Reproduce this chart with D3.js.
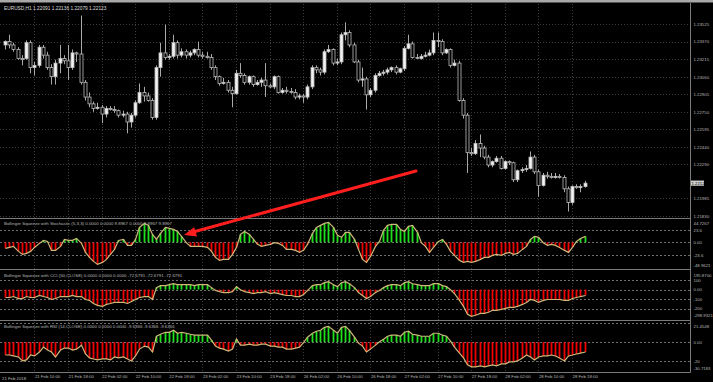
<!DOCTYPE html>
<html>
<head>
<meta charset="utf-8">
<script src="https://cdn.jsdelivr.net/npm/d3@7"></script>
<style>
  html, body { margin: 0; padding: 0; background: #000; }
  svg { display: block; }
  text { font-family: "Liberation Sans", Arial, sans-serif; }
</style>
</head>
<body>
<div id="chart"></div>
<script>
const width = 713, height = 382;

// EURUSD H1, one bar per hour from 21 Feb 03:00 to 28 Feb 21:00
const open = [1.2334,1.2337,1.2334,1.2330,1.2322,1.2322,1.2336,1.2314,1.2316,1.2332,
  1.2325,1.2314,1.2306,1.2318,1.2322,1.2320,1.2314,1.2327,1.2326,1.2301,
  1.2288,1.2282,1.2278,1.2279,1.2273,1.2278,1.2277,1.2276,1.2272,1.2273,
  1.2266,1.2272,1.2283,1.2292,1.2289,1.2285,1.2270,1.2314,1.2327,1.2323,
  1.2324,1.2336,1.2325,1.2328,1.2325,1.2327,1.2330,1.2325,1.2324,1.2323,
  1.2314,1.2306,1.2300,1.2301,1.2294,1.2291,1.2309,1.2307,1.2301,1.2306,
  1.2299,1.2301,1.2303,1.2298,1.2297,1.2306,1.2292,1.2294,1.2293,1.2292,
  1.2288,1.2289,1.2288,1.2297,1.2314,1.2312,1.2310,1.2328,1.2330,1.2318,
  1.2319,1.2343,1.2345,1.2334,1.2319,1.2303,1.2304,1.2290,1.2294,1.2307,
  1.2309,1.2310,1.2312,1.2314,1.2310,1.2313,1.2331,1.2335,1.2323,1.2322,
  1.2324,1.2325,1.2327,1.2338,1.2337,1.2327,1.2330,1.2316,1.2318,1.2285,
  1.2272,1.2239,1.2238,1.2247,1.2243,1.2235,1.2228,1.2231,1.2234,1.2225,
  1.2231,1.2230,1.2215,1.2223,1.2224,1.2225,1.2235,1.2222,1.2210,1.2219,
  1.2218,1.2217,1.2218,1.2217,1.2207,1.2195,1.2209,1.2208,1.2209];
const high = [1.2338,1.2343,1.2336,1.2332,1.2325,1.2338,1.2338,1.2319,1.2334,1.2334,
  1.2328,1.2317,1.2321,1.2334,1.2325,1.2334,1.2330,1.2328,1.2360,1.2303,
  1.2292,1.2284,1.2283,1.2281,1.2280,1.2280,1.2280,1.2277,1.2276,1.2275,
  1.2274,1.2285,1.2300,1.2297,1.2292,1.2287,1.2316,1.2336,1.2352,1.2326,
  1.2343,1.2338,1.2331,1.2330,1.2329,1.2331,1.2337,1.2328,1.2328,1.2326,
  1.2316,1.2307,1.2305,1.2303,1.2297,1.2312,1.2318,1.2309,1.2307,1.2307,
  1.2303,1.2305,1.2318,1.2300,1.2307,1.2307,1.2296,1.2297,1.2296,1.2295,
  1.2291,1.2291,1.2299,1.2316,1.2316,1.2314,1.2330,1.2334,1.2331,1.2322,
  1.2345,1.2354,1.2347,1.2336,1.2321,1.2314,1.2306,1.2296,1.2309,1.2311,
  1.2312,1.2314,1.2315,1.2316,1.2314,1.2333,1.2343,1.2337,1.2326,1.2326,
  1.2328,1.2330,1.2345,1.2345,1.2339,1.2331,1.2331,1.2321,1.2320,1.2287,
  1.2274,1.2243,1.2250,1.2255,1.2245,1.2237,1.2232,1.2236,1.2236,1.2232,
  1.2232,1.2231,1.2224,1.2226,1.2228,1.2240,1.2237,1.2224,1.2221,1.2222,
  1.2221,1.2221,1.2220,1.2219,1.2209,1.2210,1.2211,1.2211,1.2214];
const low = [1.2330,1.2331,1.2328,1.2321,1.2316,1.2321,1.2309,1.2307,1.2314,1.2322,
  1.2312,1.2299,1.2299,1.2309,1.2317,1.2303,1.2312,1.2319,1.2299,1.2285,
  1.2279,1.2275,1.2277,1.2265,1.2270,1.2276,1.2274,1.2270,1.2270,1.2256,
  1.2261,1.2270,1.2282,1.2284,1.2284,1.2268,1.2268,1.2306,1.2321,1.2321,
  1.2322,1.2322,1.2323,1.2322,1.2323,1.2325,1.2323,1.2322,1.2322,1.2312,
  1.2303,1.2298,1.2299,1.2292,1.2279,1.2290,1.2305,1.2299,1.2299,1.2297,
  1.2298,1.2297,1.2288,1.2296,1.2295,1.2291,1.2291,1.2291,1.2291,1.2286,
  1.2286,1.2283,1.2286,1.2295,1.2309,1.2307,1.2308,1.2327,1.2316,1.2316,
  1.2317,1.2338,1.2332,1.2318,1.2301,1.2297,1.2277,1.2288,1.2292,1.2306,
  1.2307,1.2308,1.2310,1.2308,1.2309,1.2311,1.2330,1.2322,1.2322,1.2321,
  1.2323,1.2324,1.2325,1.2332,1.2325,1.2326,1.2314,1.2315,1.2284,1.2269,
  1.2221,1.2236,1.2237,1.2235,1.2233,1.2226,1.2226,1.2230,1.2224,1.2224,
  1.2228,1.2213,1.2213,1.2221,1.2222,1.2224,1.2220,1.2200,1.2209,1.2216,
  1.2216,1.2216,1.2216,1.2204,1.2187,1.2193,1.2207,1.2204,1.2208];
const close = [1.2337,1.2334,1.2330,1.2322,1.2321,1.2336,1.2314,1.2316,1.2332,1.2325,
  1.2314,1.2306,1.2318,1.2322,1.2320,1.2314,1.2327,1.2326,1.2301,1.2288,
  1.2282,1.2278,1.2279,1.2273,1.2278,1.2277,1.2276,1.2272,1.2273,1.2266,
  1.2272,1.2283,1.2292,1.2289,1.2285,1.2270,1.2314,1.2327,1.2323,1.2324,
  1.2336,1.2325,1.2328,1.2325,1.2327,1.2330,1.2325,1.2324,1.2323,1.2314,
  1.2306,1.2300,1.2301,1.2294,1.2291,1.2309,1.2307,1.2301,1.2306,1.2299,
  1.2301,1.2303,1.2298,1.2297,1.2306,1.2292,1.2294,1.2293,1.2292,1.2288,
  1.2289,1.2288,1.2297,1.2314,1.2312,1.2310,1.2328,1.2330,1.2318,1.2319,
  1.2343,1.2345,1.2334,1.2319,1.2303,1.2304,1.2290,1.2294,1.2307,1.2309,
  1.2310,1.2312,1.2314,1.2310,1.2313,1.2331,1.2335,1.2323,1.2322,1.2324,
  1.2325,1.2327,1.2338,1.2337,1.2327,1.2330,1.2316,1.2318,1.2285,1.2272,
  1.2239,1.2238,1.2247,1.2243,1.2235,1.2228,1.2231,1.2234,1.2225,1.2231,
  1.2230,1.2215,1.2223,1.2224,1.2225,1.2235,1.2222,1.2210,1.2219,1.2218,
  1.2217,1.2218,1.2217,1.2207,1.2195,1.2209,1.2208,1.2209,1.2212];

// Bollinger Squeeze histograms, one value per bar
const stochSqueeze = [-11.5,-9.6,-7.6,-17.2,-22.9,-21.0,-17.2,-9.6,-1.9,3.8,
  1.9,-15.3,-15.3,-7.6,5.7,3.8,3.8,7.6,-1.9,-19.1,
  -28.7,-36.3,-42.0,-38.2,-32.5,-22.9,-13.4,3.8,5.7,-5.7,
  -5.7,5.7,28.7,36.3,32.5,15.3,5.7,17.2,28.7,26.8,
  24.8,21.0,11.5,-1.0,-7.6,-7.6,-7.6,-7.6,-9.6,-17.2,
  -28.7,-34.4,-32.5,-32.5,-22.9,-9.6,15.3,21.0,15.3,5.7,
  -3.8,-7.6,-5.7,-3.8,-0.5,-1.9,-5.7,-13.4,-13.4,-15.3,
  -19.1,-15.3,-3.8,17.2,28.7,32.5,36.3,38.2,28.7,13.4,
  9.6,19.1,19.1,5.7,-13.4,-32.5,-38.2,-26.8,-7.6,1.9,
  22.9,32.5,34.4,34.4,24.8,21.0,30.6,32.5,19.1,-1.0,
  -7.6,-19.1,-9.6,1.9,5.7,-3.8,-17.2,-24.8,-34.4,-38.2,
  -36.3,-38.2,-36.3,-32.5,-28.7,-28.7,-24.8,-22.9,-24.8,-21.0,
  -19.1,-22.9,-21.0,-13.4,-7.6,5.7,11.5,9.6,-1.0,-5.7,
  -3.8,-5.7,-9.6,-15.3,-19.1,-9.6,1.9,7.6,11.5];
const cciSqueeze = [-83,-83,-73,-94,-94,-73,-83,-83,-62,-73,
  -83,-104,-94,-73,-73,-73,-62,-73,-73,-104,
  -114,-146,-166,-177,-156,-146,-135,-135,-135,-146,
  -125,-104,-83,-73,-73,-104,21,42,42,52,
  62,52,52,52,52,42,52,52,52,21,
  -10,-21,-31,-31,-21,31,-2,-21,-31,-42,
  -31,-31,-21,-42,-31,-42,-52,-62,-62,-73,
  -73,-52,-10,42,52,52,73,83,52,31,
  73,83,62,21,-31,-62,-94,-73,-31,-10,
  21,42,52,52,42,73,83,62,52,42,
  42,42,62,62,42,31,-2,-42,-114,-177,
  -260,-281,-270,-250,-250,-239,-218,-218,-208,-198,
  -187,-187,-177,-156,-135,-104,-114,-135,-114,-104,
  -104,-104,-104,-114,-114,-94,-83,-73,-62];
const rsiSqueeze = [-13.7,-13.7,-14.7,-15.8,-20.0,-18.9,-13.7,-14.7,-10.5,-5.3,
  -8.4,-10.5,-15.8,-8.4,-6.3,-6.3,-8.4,-7.4,-3.2,-12.6,
  -16.8,-17.9,-18.9,-17.9,-17.9,-18.9,-15.8,-16.8,-15.8,-17.9,
  -20.0,-14.7,-7.4,-4.2,-5.3,-10.5,6.3,8.4,10.5,10.5,
  12.6,9.5,10.5,9.5,8.4,7.4,7.4,7.4,7.4,2.1,
  -4.2,-6.3,-7.4,-9.5,-7.4,3.2,-3.2,-3.2,-2.1,-3.2,
  -3.2,-2.1,-2.1,-4.2,-4.2,-5.3,-5.3,-7.4,-7.4,-6.3,
  -5.3,-0.5,5.3,9.5,11.6,12.6,15.8,16.8,12.6,9.5,
  15.8,16.8,12.6,5.3,-1.1,-4.2,-10.5,-7.4,-3.2,0.5,
  3.2,6.3,7.4,7.4,6.3,10.5,11.6,8.4,7.4,6.3,
  6.3,6.3,9.5,9.5,7.4,6.3,1.1,-5.3,-11.6,-16.8,
  -24.2,-26.3,-26.3,-25.2,-26.3,-25.2,-24.2,-25.2,-23.1,-23.1,
  -21.0,-21.0,-20.0,-16.8,-13.7,-15.8,-18.9,-15.8,-14.7,-14.7,
  -13.7,-14.7,-16.8,-20.0,-14.7,-13.7,-12.6,-11.6,-10.5];

const priceTicks = [1.23525,1.23370,1.23215,1.23060,1.22905,1.22750,1.22595,1.22440,1.22290,1.21985,1.21830];
const timeBars = [7,15,23,31,39,47,55,63,71,79,87,95,103,111,119,127,135];
const timeLabels = ['21 Feb 10:00','21 Feb 18:00','22 Feb 02:00','22 Feb 10:00','22 Feb 18:00','23 Feb 02:00',
  '23 Feb 10:00','23 Feb 18:00','26 Feb 02:00','26 Feb 10:00','26 Feb 18:00','27 Feb 02:00',
  '27 Feb 10:00','27 Feb 18:00','28 Feb 02:00','28 Feb 10:00','28 Feb 18:00'];

const stochLevels = [44.7267, 23.6, 0, -23.6, -48.9621];
const stochLevelText = ['44.7267','23.6','0.00','-23.6','-48.9621'];
const cciLevels = [195.87, 100, 0, -100, -200, -298.9321];
const cciLevelText = ['195.8700','100','0.00','-100','-200','-298.9321'];
const rsiLevels = [21.4548, 20, 0, -20, -30.7183];
const rsiLevelText = ['21.4548','','0.00','-20','-30.7183'];

const plotRight = 690.5;
const gridColor = '#3c3c3c', frameColor = '#7a7a7a', textColor = '#b8b8b8';

const svg = d3.select('#chart')
  .append('svg')
  .attr('width', width)
  .attr('height', height)
  .style('background', '#000');

const x = d3.scaleLinear().domain([0, close.length - 1]).range([5, 584.6]);
const yMain = d3.scaleLinear().domain([1.21830, 1.23525]).range([216, 24]);

// window strip on top
svg.append('rect').attr('x', 0).attr('y', 0).attr('width', width).attr('height', 2.5).attr('fill', '#a8a8a8');

// horizontal grid of the price pane
svg.append('g').selectAll('line')
  .data(priceTicks)
  .enter().append('line')
  .attr('x1', 0).attr('x2', plotRight)
  .attr('y1', d => Math.round(yMain(d)) + 0.5)
  .attr('y2', d => Math.round(yMain(d)) + 0.5)
  .attr('stroke', gridColor).attr('stroke-dasharray', '1,2');

// vertical grid through all panes
svg.append('g').selectAll('line')
  .data(timeBars)
  .enter().append('line')
  .attr('x1', d => Math.round(x(d)) + 0.5).attr('x2', d => Math.round(x(d)) + 0.5)
  .attr('y1', 4).attr('y2', 372)
  .attr('stroke', gridColor).attr('stroke-dasharray', '1,2');

// candles
const bars = d3.range(close.length);
const candles = svg.append('g');
candles.selectAll('line')
  .data(bars)
  .enter().append('line')
  .attr('x1', i => Math.round(x(i)) + 0.5).attr('x2', i => Math.round(x(i)) + 0.5)
  .attr('y1', i => yMain(high[i])).attr('y2', i => yMain(low[i]))
  .attr('stroke', '#a9a9a9').attr('stroke-width', 1);
candles.selectAll('rect')
  .data(bars)
  .enter().append('rect')
  .attr('x', i => Math.round(x(i)) - 1)
  .attr('y', i => yMain(Math.max(open[i], close[i])))
  .attr('width', 3)
  .attr('height', i => Math.max(1, Math.abs(yMain(open[i]) - yMain(close[i]))))
  .attr('fill', i => close[i] >= open[i] ? '#f2f2f2' : '#000')
  .attr('stroke', '#bdbdbd').attr('stroke-width', 0.8);

// price axis
const priceAxis = svg.append('g')
  .attr('transform', `translate(${plotRight + 2},0)`)
  .call(d3.axisRight(yMain).tickValues(priceTicks).tickFormat(d3.format('.5f')).tickSize(0).tickPadding(1));
priceAxis.select('.domain').remove();
priceAxis.selectAll('text').attr('fill', textColor).style('font-size', '4.3px');

// current price box
svg.append('rect')
  .attr('x', plotRight).attr('y', yMain(close[close.length - 1]) - 2.6)
  .attr('width', 13.5).attr('height', 5.2).attr('fill', '#cfcfcf');
svg.append('text')
  .attr('x', plotRight + 1).attr('y', yMain(close[close.length - 1]) + 1.5)
  .attr('fill', '#000').style('font-size', '4.3px')
  .text('1.22123');

svg.append('text')
  .attr('x', 4).attr('y', 10)
  .attr('fill', '#dcdcdc').style('font-size', '4.8px')
  .text('EURUSD,H1  1.22091 1.22136 1.22079 1.22123');

// indicator panes
const panes = [
  { values: stochSqueeze, top: 219, bottom: 268, levels: stochLevels, labels: stochLevelText,
    title: 'Bollinger Squeeze with Stochastic (5,3,3) 0.0000 0.0000 9.8967 0.0000 9.8967 9.8967' },
  { values: cciSqueeze, top: 271, bottom: 318, levels: cciLevels, labels: cciLevelText,
    title: 'Bollinger Squeeze with CCI (50,CLOSE) 0.0000 0.0000 0.0000 -72.6791 -72.6791 -72.6791' },
  { values: rsiSqueeze, top: 322, bottom: 371, levels: rsiLevels, labels: rsiLevelText,
    title: 'Bollinger Squeeze with RSI (14,CLOSE) 0.0000 0.0000 0.0000 -9.6366 -9.6366 -9.6366' }
];

panes.forEach(p => {
  const lo = p.levels[p.levels.length - 1], hi = p.levels[0];
  const y = d3.scaleLinear().domain([lo, hi]).range([p.bottom, p.top]);
  const g = svg.append('g');

  // dashed level lines (skip the min / max ones)
  g.selectAll('line.level')
    .data(p.levels.slice(1, -1))
    .enter().append('line')
    .attr('class', 'level')
    .attr('x1', 0).attr('x2', plotRight)
    .attr('y1', d => Math.round(y(d)) + 0.5).attr('y2', d => Math.round(y(d)) + 0.5)
    .attr('stroke', '#8a8a8a').attr('stroke-width', 0.8).attr('stroke-dasharray', '2,2');

  g.selectAll('line.hist')
    .data(bars)
    .enter().append('line')
    .attr('class', 'hist')
    .attr('x1', i => Math.round(x(i)) + 0.5).attr('x2', i => Math.round(x(i)) + 0.5)
    .attr('y1', y(0)).attr('y2', i => y(p.values[i]))
    .attr('stroke', i => p.values[i] >= 0 ? '#1fe01f' : '#f20000')
    .attr('stroke-width', 1.8);

  g.append('path')
    .datum(p.values)
    .attr('fill', 'none')
    .attr('stroke', '#cdb878')
    .attr('stroke-width', 1.2)
    .attr('d', d3.line().x((d, i) => Math.round(x(i)) + 0.5).y(d => y(d)));

  g.append('text')
    .attr('x', 4).attr('y', p.top + 5.5)
    .attr('fill', textColor).style('font-size', '4.4px')
    .text(p.title);

  const ax = g.append('g')
    .attr('transform', `translate(${plotRight + 2},0)`)
    .call(d3.axisRight(y).tickValues(p.levels).tickFormat((d, k) => p.labels[k]).tickSize(0).tickPadding(1));
  ax.select('.domain').remove();
  ax.selectAll('text').attr('fill', textColor).style('font-size', '4.3px');
  ax.selectAll('.tick').filter((d, k) => k === 0).select('text').attr('dy', '1.3em');
  ax.selectAll('.tick').filter((d, k) => k === p.levels.length - 1).select('text').attr('dy', '-0.3em');
});

// frame and separators
svg.append('g').selectAll('line')
  .data([218.5, 269.5, 320.5, 372.5])
  .enter().append('line')
  .attr('x1', 0).attr('x2', plotRight)
  .attr('y1', d => d).attr('y2', d => d)
  .attr('stroke', frameColor);
svg.append('line')
  .attr('x1', plotRight).attr('x2', plotRight)
  .attr('y1', 3).attr('y2', 372.5)
  .attr('stroke', frameColor);

// time axis
const timeAxis = svg.append('g')
  .attr('transform', 'translate(0,372.5)')
  .call(d3.axisBottom(x).tickValues(timeBars).tickFormat((d, k) => timeLabels[k]).tickSize(0).tickPadding(2));
timeAxis.select('.domain').remove();
timeAxis.selectAll('text').attr('fill', textColor).style('font-size', '4.3px')
  .attr('text-anchor', 'start').attr('dy', '0.9em');
svg.append('text')
  .attr('x', 2).attr('y', 379.5)
  .attr('fill', textColor).style('font-size', '4.3px')
  .text('21 Feb 2018');

// red annotation arrow
svg.append('line')
  .attr('x1', 416).attr('y1', 171).attr('x2', 195).attr('y2', 231.5)
  .attr('stroke', '#ff1e1e').attr('stroke-width', 3).attr('stroke-linecap', 'round');
svg.append('path')
  .attr('d', 'M184,235 L194.2,227.3 L197,236.4 Z')
  .attr('fill', '#ff1e1e');
</script>
</body>
</html>
